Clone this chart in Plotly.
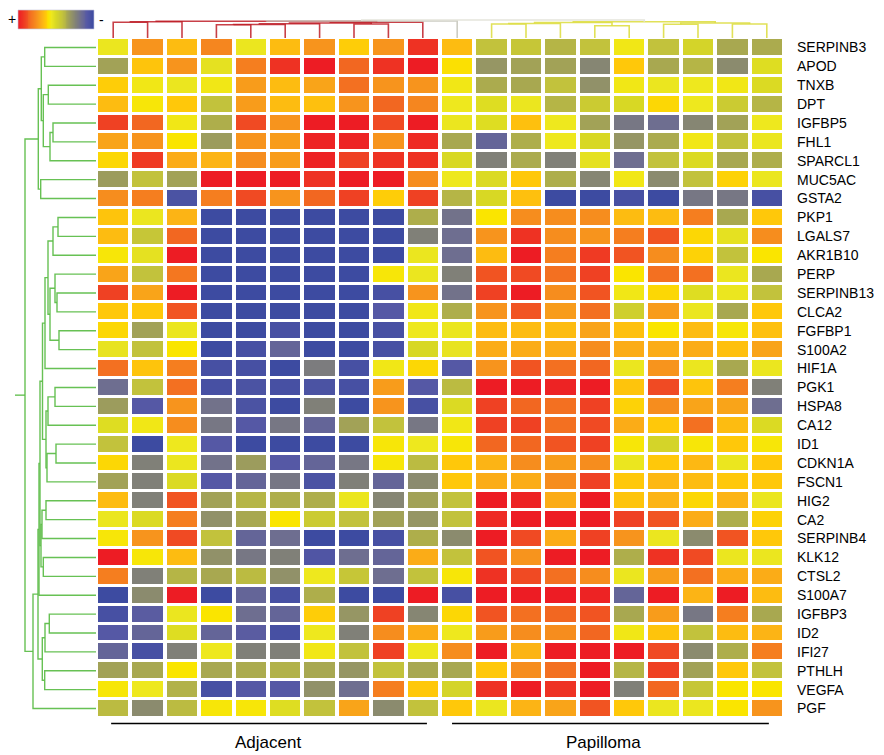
import numpy as np
import plotly.graph_objects as go

# ---------------------------------------------------------------- data
genes = ["SERPINB3", "APOD", "TNXB", "DPT", "IGFBP5", "FHL1", "SPARCL1", "MUC5AC",
         "GSTA2", "PKP1", "LGALS7", "AKR1B10", "PERP", "SERPINB13", "CLCA2", "FGFBP1",
         "S100A2", "HIF1A", "PGK1", "HSPA8", "CA12", "ID1", "CDKN1A", "FSCN1", "HIG2",
         "CA2", "SERPINB4", "KLK12", "CTSL2", "S100A7", "IGFBP3", "ID2", "IFI27",
         "PTHLH", "VEGFA", "PGF"]

groups = ["Adjacent", "Papilloma"]

# relative expression, one row per gene, 10 adjacent-tissue samples
adjacent = [
    [0.3, 1.5, 1.0, 1.7, 0.3, 1.0, 1.5, 0.8, 1.5, 2.7],
    [-1.0, 0.9, 1.5, 0.2, 1.8, 2.7, 3.0, 2.1, 2.7, 3.0],
    [0.8, 0.4, 0.3, 0.4, 1.4, 1.0, 1.3, 2.0, 1.5, 1.5],
    [1.0, 0.5, 0.85, -0.5, 1.4, 1.0, 0.95, 1.5, 2.1, 1.7],
    [2.5, 2.1, 0.4, -0.8, 2.4, 1.5, 3.0, 3.0, 2.4, 3.0],
    [1.3, 1.5, 0.55, -1.1, 1.5, 1.4, 2.9, 2.9, 1.5, 2.8],
    [0.7, 2.6, 1.2, 1.1, 1.6, 1.4, 2.9, 2.5, 2.7, 2.7],
    [-1.1, -0.5, -1.0, 3.0, 3.0, 3.0, 2.7, 3.0, 3.0, 1.6],
    [1.6, 1.8, -2.7, 1.8, 2.4, 1.5, 2.1, 2.5, 0.8, 2.5],
    [0.9, 0.3, 1.1, -3.0, -3.0, -3.0, -3.0, -3.0, -3.0, -0.8],
    [1.0, -0.4, 2.1, -3.0, -3.0, -3.0, -3.0, -3.0, -3.0, -1.6],
    [0.5, 0.2, 3.0, -3.0, -3.0, -3.0, -3.0, -3.0, -3.0, 0.3],
    [1.3, -0.5, 1.9, -3.0, -3.0, -3.0, -3.0, -3.0, 0.5, 0.3],
    [2.5, 1.3, 3.0, -3.0, -3.0, -3.0, -3.0, -3.0, -2.8, 1.5],
    [0.85, 0.85, 2.3, -3.0, -3.0, -3.0, -3.0, -3.0, -2.5, 0.4],
    [0.7, -1.0, 0.3, -3.0, -3.0, -2.8, -3.0, -3.0, -2.8, 0.35],
    [0.25, -0.5, 0.55, -3.0, -2.8, -2.2, -3.0, -3.0, -2.8, 0.0],
    [2.0, 0.9, 1.8, -2.8, -2.8, -3.0, -1.7, -2.8, 0.4, 0.7],
    [-2.0, -0.5, 2.0, -2.8, -2.7, -2.8, -2.7, -2.8, 1.4, -2.5],
    [-1.1, -2.5, 1.5, -1.9, -2.7, -3.0, -1.6, -3.0, 1.5, -2.8],
    [0.1, 0.4, 1.6, -1.8, -2.5, -1.8, -2.2, -1.0, -0.5, -1.8],
    [-0.5, -3.0, 0.35, -2.5, -3.0, -3.0, -3.0, -3.0, 0.5, 0.35],
    [0.7, -1.6, 0.3, -1.9, -1.1, -2.5, -2.2, -1.8, 0.5, -0.6],
    [-1.0, -1.6, 0.05, -2.5, -2.2, -1.8, -2.7, -1.6, -2.2, -1.4],
    [1.0, -1.6, 2.3, -1.0, -0.7, -0.8, -0.8, 0.3, -1.5, -1.0],
    [0.3, 0.05, 1.8, -1.3, -0.9, 0.55, -0.3, -0.5, -1.0, -1.2],
    [0.5, 1.5, 2.4, -0.5, -2.2, -2.0, -3.0, -3.0, -2.8, -0.8],
    [3.0, 0.5, 1.0, -1.3, -1.8, -1.6, -2.6, -2.0, -2.2, 1.2],
    [1.8, -1.6, -0.7, -0.9, -0.6, -1.3, 0.35, -0.4, -2.0, -0.5],
    [-3.0, -1.4, 3.0, -3.0, -2.2, -2.8, -0.8, -3.0, -3.0, 3.0],
    [-2.8, -2.4, 0.3, 0.55, -2.0, -2.2, 0.8, -1.2, 2.5, -1.5],
    [-2.5, -2.2, 0.1, -2.2, -2.4, -2.8, 0.35, -1.6, 1.6, 1.2],
    [-2.2, -2.8, -1.6, 0.35, -1.6, -1.6, 0.4, -0.5, 2.5, 0.35],
    [-1.0, -0.9, 0.55, -0.9, -0.85, -0.75, -0.9, -1.2, -0.5, -0.9],
    [0.5, 0.35, -0.75, -2.8, -2.5, -2.5, -1.3, -2.0, 1.8, 0.85],
    [-0.6, -1.4, -0.6, 0.5, 0.5, 0.1, -0.5, 1.3, -1.4, -0.5],
]

# relative expression, one row per gene, 10 papilloma samples
papilloma = [
    [1.0, -0.5, -0.4, -0.7, -0.5, 0.4, -0.5, -0.1, -0.9, -0.85],
    [0.6, -1.2, -1.0, -1.0, -1.5, 0.85, -0.9, -0.7, -1.4, 0.1],
    [0.4, -0.85, -0.9, -0.5, -1.3, 0.4, 0.3, 0.35, 0.4, 0.05],
    [0.35, 0.1, 0.3, -0.7, -0.3, 0.0, 0.7, 0.35, -0.3, -0.7],
    [0.3, 0.1, 0.95, 0.35, -1.0, -1.8, -2.0, -1.5, -1.0, 0.35],
    [-0.9, -2.2, -0.8, 0.35, 0.0, -1.2, -0.85, 0.4, -0.5, 0.3],
    [0.0, -1.6, -0.85, -1.6, 0.2, -2.0, -0.5, 0.05, -0.9, -0.8],
    [0.35, 0.05, 0.85, -0.8, -1.5, 0.4, -1.4, -0.5, 0.75, 0.3],
    [-0.7, 0.0, 0.95, -3.0, -3.0, -2.8, -3.0, -1.8, -1.8, -2.8],
    [-1.9, 0.55, 1.6, 1.6, 1.6, 1.0, 1.0, 1.8, -0.9, 0.85],
    [-2.0, 1.5, 2.7, 1.6, 1.5, 1.8, 2.3, 0.7, 0.2, 1.6],
    [-2.0, 1.0, 3.0, 1.8, 2.6, 2.3, 1.6, 0.75, -0.5, 0.55],
    [-1.6, 2.3, 2.4, 2.0, 2.5, 0.55, 2.0, 2.0, 0.3, -0.9],
    [-1.9, 2.5, 3.0, 1.6, 2.3, 0.4, 0.7, 0.1, 0.3, -0.5],
    [-0.8, 1.5, 2.3, 1.4, 2.0, -0.2, 1.4, 0.3, -0.9, 0.85],
    [0.3, 1.0, 1.0, 1.0, 1.3, 0.95, 0.55, 1.0, 0.5, 0.95],
    [0.25, 1.2, 1.2, 1.2, 1.6, 1.2, 1.2, 1.2, 0.95, 1.3],
    [-2.5, 1.5, 2.3, 2.0, 2.1, 0.3, 1.5, 0.3, -0.9, 0.3],
    [-0.6, 3.0, 3.0, 2.9, 3.0, 0.9, 2.4, 0.9, 1.8, -1.6],
    [0.05, 2.5, 2.1, 2.0, 2.5, 0.75, 1.6, 1.3, 1.3, -2.0],
    [0.4, 2.5, 2.5, 2.0, 2.4, 1.2, 0.85, 2.0, 1.0, 0.05],
    [0.5, 2.1, 2.1, 2.3, 2.5, 0.5, -0.1, 0.5, 0.85, 0.5],
    [0.85, 1.1, 1.6, 1.4, 1.6, 0.3, 0.85, 1.05, 0.3, 0.85],
    [0.85, 1.2, 1.2, 1.6, 2.5, 0.85, 1.05, 1.0, 0.85, 0.85],
    [-0.5, 3.0, 2.9, 1.2, 3.0, 0.9, 1.1, 0.7, 1.1, 0.3],
    [-0.5, 2.8, 3.0, 3.0, 3.0, 2.5, 2.3, 1.2, -0.8, 0.75],
    [-1.4, 3.0, 2.4, 1.2, 2.5, 1.5, 0.3, -1.4, 2.3, 0.85],
    [-0.5, 2.3, 1.5, 3.0, 3.0, -0.8, 2.7, 2.4, 0.3, 0.3],
    [0.5, 2.7, 2.4, 2.0, 1.6, 0.3, 1.4, 2.0, 1.2, 1.2],
    [-2.8, 3.0, 3.0, 3.0, 2.9, -2.2, 3.0, 1.1, 3.0, 1.0],
    [0.7, 2.3, 2.0, 2.1, 2.3, -0.9, 1.4, -1.8, 1.8, -0.9],
    [0.35, 1.4, 1.6, 1.6, 2.1, 0.4, 0.9, -0.5, 1.0, 1.1],
    [1.6, 3.0, 1.1, 3.0, 3.0, 3.0, 2.4, -1.4, -0.8, 1.8],
    [-0.9, 0.85, 1.6, 2.0, 3.0, -0.7, 2.5, -1.0, 0.85, -0.5],
    [-0.1, 2.7, 3.0, 2.7, 3.0, -1.6, 2.1, -0.4, 0.55, 0.55],
    [0.85, 0.3, 1.1, 1.3, 2.3, 0.85, 0.3, 0.3, 0.55, 1.5],
]

# gene clustering: (left child, right child, merge distance); ids >= 36 are earlier merges
gene_merges = [
    (0, 1, 51.3), (2, 3, 47.7), (4, 5, 43.0), (38, 6, 46.0), (37, 39, 52.7),
    (36, 40, 54.7), (7, 8, 55.3), (41, 42, 57.7),
    (9, 10, 38.0), (44, 11, 43.0), (13, 14, 39.0), (12, 46, 41.0), (15, 16, 37.0),
    (47, 48, 46.0), (45, 49, 48.0), (50, 17, 51.0), (18, 19, 41.0), (52, 20, 48.0),
    (21, 22, 40.0), (54, 23, 49.0), (53, 55, 50.0), (51, 56, 53.5), (24, 25, 50.0),
    (58, 26, 54.0), (27, 28, 52.7), (59, 60, 55.0), (57, 61, 56.0), (62, 29, 57.0),
    (30, 31, 46.7), (64, 32, 51.0), (33, 34, 51.3), (65, 66, 53.7), (63, 67, 58.0),
    (68, 35, 63.0), (43, 69, 71.0),
]
gene_root_stub = 81.0

# sample clustering: ids >= 20 are earlier merges
sample_merges = [
    (0, 1, 15.7), (20, 2, 16.3), (3, 4, 13.3), (22, 5, 13.5), (23, 6, 14.3),
    (7, 8, 14.0), (24, 25, 15.0), (26, 9, 15.7), (21, 27, 16.7), (28, 10, 17.0),
    (11, 12, 14.0), (30, 13, 14.5), (14, 15, 12.3), (31, 32, 15.5), (16, 17, 13.7),
    (18, 19, 14.0), (34, 35, 15.0), (33, 36, 16.3), (29, 37, 18.0),
]
sample_merge_groups = ["a"] * 9 + ["g"] + ["p"] * 8 + ["r"]

# ---------------------------------------------------------------- styling
FONT = "Arial, Liberation Sans, sans-serif"
W, H = 884, 755
HM_LEFT, HM_RIGHT = 96, 784      # heatmap grid, px
HM_TOP, HM_BOTTOM = 38, 718

colorscale = [
    [0.0000, "#3d4ba1"], [0.0833, "#5558a5"], [0.1667, "#6e6e90"],
    [0.2333, "#808078"], [0.3000, "#969664"], [0.3500, "#a8a850"],
    [0.4167, "#c2c23c"], [0.5000, "#d8d824"], [0.5583, "#eee81e"],
    [0.5917, "#fae500"], [0.6417, "#ffc80a"], [0.6833, "#fcb415"],
    [0.7500, "#f7941d"], [0.8333, "#f37021"], [0.9167, "#ef4123"],
    [1.0000, "#ed1c24"],
]

n_rows = len(genes)
n_cols = len(adjacent[0]) + len(papilloma[0])
z = [a + p for a, p in zip(adjacent, papilloma)]


def px_x(v):
    return v / W


def px_y(v):
    return (H - v) / H


def dendrogram_paths(merges, n_leaves, groups=None):
    """Return {group: (pos, height)} polyline arrays for a merge list."""
    pos = {i: float(i) for i in range(n_leaves)}
    hgt = {i: 0.0 for i in range(n_leaves)}
    paths = {}
    for k, (a, b, h) in enumerate(merges):
        g = groups[k] if groups else "all"
        p, q = paths.setdefault(g, ([], []))
        p += [pos[a], pos[a], pos[b], pos[b], None]
        q += [hgt[a], h, h, hgt[b], None]
        node = n_leaves + k
        pos[node] = (pos[a] + pos[b]) / 2
        hgt[node] = h
    return paths, pos, hgt


fig = go.Figure()

# main heatmap
fig.add_trace(go.Heatmap(
    z=z, x=list(range(n_cols)), y=list(range(n_rows)),
    colorscale=colorscale, zmin=-3, zmax=3, showscale=False,
    xgap=4, ygap=3, hoverongaps=False,
    customdata=[[g] * n_cols for g in genes],
    hovertemplate="%{customdata}<br>sample %{x}<br>%{z}<extra></extra>",
))

# gene dendrogram (left)
gpaths, gpos, ghgt = dendrogram_paths(gene_merges, n_rows)
root = n_rows + len(gene_merges) - 1
gx, gy = gpaths["all"]
gx = gx + [gpos[root], gpos[root]]
gy = gy + [ghgt[root], gene_root_stub]
fig.add_trace(go.Scatter(
    x=gy, y=gx, xaxis="x2", yaxis="y", mode="lines",
    line=dict(color="rgba(95,190,75,0.95)", width=1.4),
    hoverinfo="skip", showlegend=False,
))

# sample dendrogram (top)
spaths, _, _ = dendrogram_paths(sample_merges, n_cols, sample_merge_groups)
scolors = {"a": "rgba(190,30,40,0.85)", "p": "rgba(222,222,70,0.9)",
           "g": "rgba(200,200,190,0.9)", "r": "rgba(225,225,215,0.9)"}
for g, (sx, sy) in spaths.items():
    fig.add_trace(go.Scatter(
        x=sx, y=sy, xaxis="x", yaxis="y3", mode="lines",
        line=dict(color=scolors[g], width=1.6),
        hoverinfo="skip", showlegend=False,
    ))

# colour key gradient
key = np.linspace(3, -3, 80)
fig.add_trace(go.Heatmap(
    z=[key], xaxis="x4", yaxis="y4", colorscale=colorscale,
    zmin=-3, zmax=3, showscale=False, hoverinfo="skip",
))

hidden = dict(visible=False, showgrid=False, zeroline=False)
fig.update_layout(
    width=W, height=H,
    margin=dict(l=0, r=0, t=0, b=0),
    paper_bgcolor="white", plot_bgcolor="white",
    font=dict(family=FONT, color="black"),
    showlegend=False,
    xaxis=dict(domain=[px_x(HM_LEFT), px_x(HM_RIGHT)], range=[-0.5, n_cols - 0.5],
               anchor="y", **hidden),
    yaxis=dict(domain=[px_y(HM_BOTTOM), px_y(HM_TOP)], range=[n_rows - 0.5, -0.5],
               anchor="x", side="right", tickmode="array",
               tickvals=list(range(n_rows)), ticktext=genes, ticks="",
               ticklabelstandoff=12, showgrid=False, zeroline=False,
               showline=False, tickfont=dict(size=14, family=FONT, color="black")),
    xaxis2=dict(domain=[0, px_x(HM_LEFT)], range=[HM_LEFT, 0], anchor="y", **hidden),
    yaxis3=dict(domain=[px_y(HM_TOP), px_y(19)], range=[0, 19], anchor="x", **hidden),
    xaxis4=dict(domain=[px_x(18), px_x(94)], anchor="y4", **hidden),
    yaxis4=dict(domain=[px_y(29), px_y(10)], anchor="x4", **hidden),
)

# group bars and labels under the heatmap
group_spans = [(-0.06, 9.12), (9.85, 19.06)]
group_centres = [4.5, 14.25]
for (x0, x1), cx, name in zip(group_spans, group_centres, groups):
    fig.add_shape(type="line", xref="x", yref="paper", x0=x0, x1=x1,
                  y0=px_y(723.5), y1=px_y(723.5),
                  line=dict(color="black", width=1.3))
    fig.add_annotation(x=cx, y=px_y(742), xref="x", yref="paper", text=name,
                       showarrow=False, font=dict(size=17, family=FONT),
                       xanchor="center", yanchor="middle")

# key outline and signs
fig.add_shape(type="rect", xref="paper", yref="paper",
              x0=px_x(18), x1=px_x(94), y0=px_y(29), y1=px_y(10),
              line=dict(color="rgba(200,200,220,0.8)", width=0.8))
fig.add_annotation(x=px_x(12), y=px_y(19), xref="paper", yref="paper", text="+",
                   showarrow=False, font=dict(size=14, family=FONT),
                   xanchor="center", yanchor="middle")
fig.add_annotation(x=px_x(101.5), y=px_y(20), xref="paper", yref="paper", text="-",
                   showarrow=False, font=dict(size=14, family=FONT),
                   xanchor="center", yanchor="middle")

fig.write_html("out.html")
